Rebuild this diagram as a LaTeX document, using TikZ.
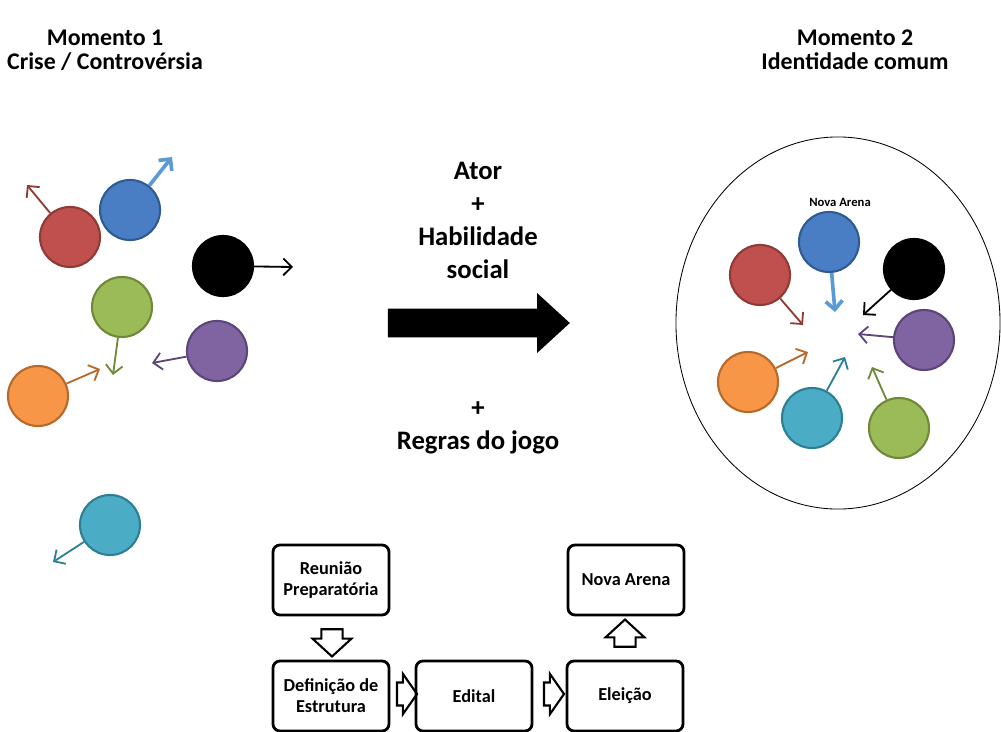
\documentclass[tikz,border=0pt]{standalone}
\usepackage{fontspec}
\setmainfont{Carlito}
\usetikzlibrary{shapes, shapes.geometric, shapes.arrows, arrows.meta, positioning}

\definecolor{redfill}{HTML}{C0504D}
\definecolor{redline}{HTML}{8E3A37}
\definecolor{bluefill}{HTML}{4A7EC4}
\definecolor{blueline}{HTML}{2F5A93}
\definecolor{bluearrow}{HTML}{5B9BD5}
\definecolor{greenfill}{HTML}{9BBB59}
\definecolor{greenline}{HTML}{6E8A38}
\definecolor{purplefill}{HTML}{8064A2}
\definecolor{purpleline}{HTML}{5B4579}
\definecolor{orangefill}{HTML}{F79646}
\definecolor{orangeline}{HTML}{B8692A}
\definecolor{cyanfill}{HTML}{4BACC6}
\definecolor{cyanline}{HTML}{2D7F95}

\tikzset{
  ball/.style={circle, draw, line width=1.5pt, minimum size=1.5cm, inner sep=0pt},
  push/.style={-{Straight Barb[length=6pt,width=12pt]}, line width=1.3pt},
  title/.style={font=\bfseries\fontsize{17}{17}\selectfont, align=center},
  step box/.style={draw, line width=2pt, rounded corners=5pt, minimum width=2.9cm,
    minimum height=1.75cm, align=center, font=\bfseries\fontsize{13}{15}\selectfont},
  hollow/.style={single arrow, draw, line width=1.5pt, single arrow head extend=0.22cm},
  hollow down/.style={hollow, shape border rotate=270, minimum height=0.68cm,
    single arrow tip angle=95, inner xsep=0.24cm, inner ysep=0.1cm},
  hollow up/.style={hollow down, shape border rotate=90},
  hollow right/.style={hollow, minimum height=0.5cm, single arrow tip angle=110,
    inner xsep=0.05cm, inner ysep=0.26cm}
}

\begin{document}
\begin{tikzpicture}[x=0.025cm, y=-0.025cm]
  \useasboundingbox (0,0) rectangle (1001,731);

  % titulos
  \node[title] (t1) at (105,50) {Momento 1\\Crise / Controvérsia};
  \node[title] (t2) at (855,50) {Momento 2\\Identidade comum};

  % momento 1: crise
  \node[ball, fill=redfill, draw=redline] (red1) at (70,237) {};
  \node[ball, fill=bluefill, draw=blueline] (blue1) at (130,210) {};
  \node[ball, fill=black, draw=black] (black1) at (223,266) {};
  \node[ball, fill=greenfill, draw=greenline] (green1) at (122,307) {};
  \node[ball, fill=purplefill, draw=purpleline] (purple1) at (217,351) {};
  \node[ball, fill=orangefill, draw=orangeline] (orange1) at (38,396) {};
  \node[ball, fill=cyanfill, draw=cyanline] (cyan1) at (110,525) {};

  \coordinate (red1tip) at (27,185);
  \coordinate (blue1tip) at (172,157);
  \coordinate (black1tip) at (293,267);
  \coordinate (green1tip) at (113,375);
  \coordinate (purple1tip) at (152,363);
  \coordinate (orange1tip) at (100,369);
  \coordinate (cyan1tip) at (53,562);

  \draw[push, redline] (red1) -- (red1tip);
  \draw[push, bluearrow, line width=2.6pt] (blue1) -- (blue1tip);
  \draw[push, black] (black1) -- (black1tip);
  \draw[push, greenline] (green1) -- (green1tip);
  \draw[push, purpleline] (purple1) -- (purple1tip);
  \draw[push, orangeline] (orange1) -- (orange1tip);
  \draw[push, cyanline] (cyan1) -- (cyan1tip);

  % meio
  \node[font=\bfseries\fontsize{19}{23.5}\selectfont, align=center] (skill) at (478,220)
    {Ator\\+\\Habilidade\\social};
  \node[single arrow, fill=black, minimum height=4.55cm, inner sep=0.35cm,
    single arrow head extend=0.39cm, single arrow tip angle=85] (bigarrow) at (471,323) {};
  \node[font=\bfseries\fontsize{19}{23.5}\selectfont, align=center] (rules) at (478,428)
    {+\\Regras do jogo};

  % momento 2: identidade comum
  \node[ellipse, draw, line width=0.6pt, minimum width=8.1cm, minimum height=9.3cm] (arena) at (838,323) {};
  \node[font=\bfseries\fontsize{9}{9}\selectfont] (arenalabel) at (840,202) {Nova Arena};

  \node[ball, fill=redfill, draw=redline] (red2) at (760,275) {};
  \node[ball, fill=bluefill, draw=blueline] (blue2) at (829,242) {};
  \node[ball, fill=black, draw=black] (black2) at (914,269) {};
  \node[ball, fill=purplefill, draw=purpleline] (purple2) at (924,340) {};
  \node[ball, fill=orangefill, draw=orangeline] (orange2) at (748,382) {};
  \node[ball, fill=cyanfill, draw=cyanline] (cyan2) at (812,418) {};
  \node[ball, fill=greenfill, draw=greenline] (green2) at (899,428) {};

  \coordinate (red2tip) at (803,325);
  \coordinate (blue2tip) at (835,312);
  \coordinate (black2tip) at (863,315);
  \coordinate (purple2tip) at (858,334);
  \coordinate (orange2tip) at (808,352);
  \coordinate (cyan2tip) at (845,357);
  \coordinate (green2tip) at (872,367);

  \draw[push, redline] (red2) -- (red2tip);
  \draw[push, bluearrow, line width=2.6pt] (blue2) -- (blue2tip);
  \draw[push, black] (black2) -- (black2tip);
  \draw[push, purpleline] (purple2) -- (purple2tip);
  \draw[push, orangeline] (orange2) -- (orange2tip);
  \draw[push, cyanline] (cyan2) -- (cyan2tip);
  \draw[push, greenline] (green2) -- (green2tip);

  % fluxo
  \node[step box] (prep) at (331,580) {Reunião\\Preparatória};
  \node[step box] (estrutura) at (331,696) {Definição de\\Estrutura};
  \node[step box] (edital) at (474,696) {Edital};
  \node[step box] (eleicao) at (625,696) {Eleição};
  \node[step box] (nova) at (626,580) {Nova Arena};

  \node[hollow down] (a1) at (332,638) {};
  \node[hollow right] (a2) at (403,694) {};
  \node[hollow right] (a3) at (550,694) {};
  \node[hollow up] (a4) at (625,638) {};
\end{tikzpicture}
\end{document}
